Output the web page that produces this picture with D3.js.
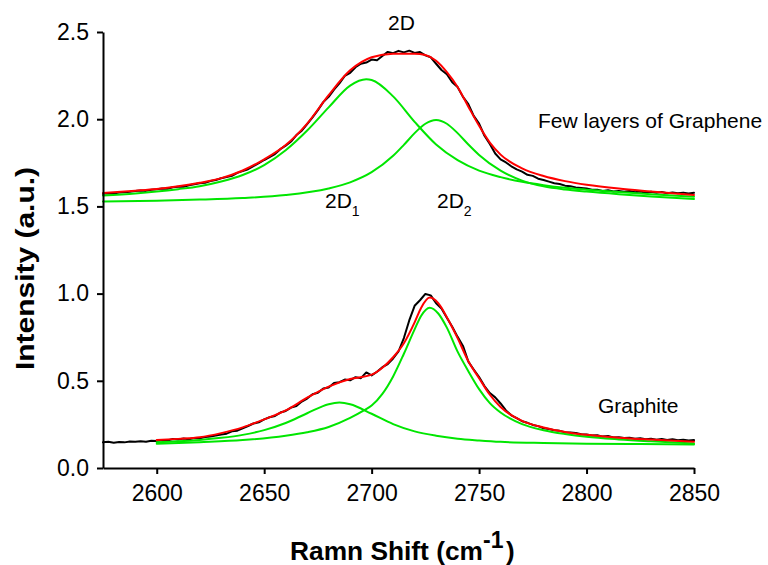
<!DOCTYPE html>
<html>
<head>
<meta charset="utf-8">
<script src="https://cdn.jsdelivr.net/npm/d3@7"></script>
<style>
  html, body { margin: 0; padding: 0; background: #ffffff; }
  svg { display: block; }
  text { font-family: "Liberation Sans", Arial, sans-serif; fill: #000; }
</style>
</head>
<body>
<svg id="chart" width="768" height="565"></svg>
<script>
// ---------------- DATA ----------------
const xTicksMajor = [2600, 2650, 2700, 2750, 2800, 2850];
const xTicksMinor = [2575, 2625, 2675, 2725, 2775, 2825];
const yTicksMajor = [0.0, 0.5, 1.0, 1.5, 2.0, 2.5];
const yTicksMinor = [0.25, 0.75, 1.25, 1.75, 2.25];

// measured spectra (step 2.5 cm-1 starting at 2575)
const measuredStart = 2575;
const measuredStep = 2.5;
const grapheneMeasured = [
  1.572,1.575,1.574,1.579,1.581,1.584,1.588,1.591,1.589,1.596,
  1.598,1.603,1.601,1.610,1.613,1.612,1.621,1.627,1.633,1.635,
  1.646,1.651,1.661,1.668,1.675,1.692,1.702,1.713,1.731,1.748,
  1.766,1.783,1.800,1.828,1.848,1.872,1.909,1.934,1.972,2.010,
  2.052,2.098,2.128,2.170,2.205,2.248,2.266,2.298,2.318,2.325,
  2.342,2.338,2.362,2.386,2.379,2.392,2.383,2.393,2.380,2.385,
  2.366,2.355,2.318,2.282,2.258,2.212,2.184,2.128,2.086,2.019,
  1.975,1.905,1.858,1.803,1.770,1.752,1.730,1.712,1.699,1.681,
  1.675,1.659,1.651,1.642,1.633,1.628,1.619,1.615,1.609,1.606,
  1.603,1.595,1.596,1.589,1.593,1.586,1.588,1.584,1.588,1.581,
  1.586,1.579,1.584,1.578,1.582,1.576,1.580,1.575,1.579,1.574,
  1.578
];
const graphiteMeasured = [
  0.147,0.150,0.145,0.149,0.147,0.152,0.150,0.154,0.151,0.156,
  0.155,0.160,0.158,0.166,0.163,0.169,0.165,0.172,0.170,0.177,
  0.181,0.186,0.192,0.197,0.210,0.214,0.228,0.241,0.255,0.262,
  0.279,0.291,0.298,0.318,0.327,0.346,0.355,0.381,0.398,0.423,
  0.431,0.456,0.462,0.487,0.492,0.507,0.503,0.521,0.515,0.548,
  0.531,0.552,0.578,0.596,0.628,0.668,0.745,0.846,0.930,0.962,
  0.998,0.990,0.945,0.915,0.862,0.810,0.752,0.700,0.610,0.565,
  0.522,0.470,0.430,0.405,0.370,0.330,0.302,0.286,0.268,0.259,
  0.247,0.240,0.228,0.224,0.216,0.213,0.205,0.204,0.201,0.193,
  0.192,0.186,0.188,0.180,0.183,0.175,0.177,0.172,0.174,0.168,
  0.171,0.165,0.168,0.162,0.166,0.160,0.165,0.159,0.162,0.158,
  0.160
];

// fitted curves (graphene)
const grapheneFitX = [2575,2590,2600,2610,2620,2630,2640,2650,2660,2670,2680,2690,2700,2710,2720,2725,2730,2735,2740,2745,2750,2755,2760,2770,2780,2790,2800,2815,2830,2850];
const grapheneFitY = [1.577,1.590,1.600,1.615,1.635,1.662,1.706,1.770,1.852,1.975,2.138,2.280,2.355,2.376,2.376,2.368,2.335,2.270,2.185,2.072,1.962,1.866,1.797,1.718,1.674,1.645,1.624,1.602,1.586,1.566];
const graphene2D1X = [2575,2590,2600,2610,2620,2630,2640,2650,2660,2670,2680,2690,2697.5,2700,2710,2720,2730,2740,2750,2760,2770,2780,2790,2800,2815,2830,2850];
const graphene2D1Y = [1.563,1.574,1.585,1.599,1.616,1.643,1.680,1.737,1.822,1.935,2.068,2.193,2.229,2.225,2.131,1.985,1.855,1.765,1.705,1.668,1.641,1.622,1.607,1.596,1.582,1.570,1.556];
const graphene2D2X = [2575,2600,2620,2640,2660,2680,2690,2700,2710,2715,2720,2725,2730,2735,2740,2745,2750,2760,2770,2780,2790,2800,2815,2830,2850];
const graphene2D2Y = [1.528,1.533,1.539,1.548,1.565,1.603,1.638,1.696,1.790,1.853,1.920,1.974,1.995,1.974,1.920,1.855,1.795,1.705,1.648,1.615,1.597,1.585,1.570,1.557,1.543];

// fitted curves (graphite)
const graphiteFitX = [2600,2610,2620,2630,2640,2650,2660,2670,2680,2690,2700,2705,2710,2715,2720,2723,2727,2731,2735,2740,2745,2750,2755,2760,2770,2780,2790,2800,2815,2830,2850];
const graphiteFitY = [0.160,0.167,0.176,0.200,0.233,0.279,0.330,0.403,0.467,0.510,0.535,0.575,0.635,0.715,0.835,0.918,0.977,0.945,0.865,0.745,0.612,0.515,0.420,0.350,0.270,0.232,0.207,0.190,0.174,0.163,0.151];
const graphiteSmallX = [2600,2610,2620,2630,2640,2650,2660,2670,2680,2685,2690,2700,2710,2720,2730,2740,2750,2760,2780,2800,2825,2850];
const graphiteSmallY = [0.148,0.153,0.161,0.173,0.190,0.217,0.258,0.314,0.366,0.375,0.366,0.311,0.252,0.210,0.185,0.168,0.158,0.150,0.143,0.139,0.137,0.135];
const graphiteBigX = [2600,2620,2640,2660,2670,2680,2690,2696,2700,2705,2710,2715,2720,2723,2727,2731,2735,2740,2745,2750,2755,2760,2770,2780,2790,2800,2815,2830,2850];
const graphiteBigY = [0.139,0.148,0.160,0.185,0.205,0.235,0.287,0.327,0.358,0.425,0.525,0.655,0.795,0.872,0.919,0.886,0.805,0.667,0.555,0.452,0.372,0.318,0.252,0.217,0.195,0.179,0.164,0.153,0.141];

// ---------------- CHART ----------------
const svg = d3.select("#chart");
svg.append("rect").attr("width", 768).attr("height", 565).attr("fill", "#fff");

const x = d3.scaleLinear().domain([2575, 2850]).range([103, 694]);
const y = d3.scaleLinear().domain([0, 2.5]).range([468, 32]);

const zip = (xs, ys) => xs.map((v, i) => [v, ys[i]]);
const measuredPts = arr => arr.map((v, i) => [measuredStart + i * measuredStep, v]);

const rough = d3.line().x(d => x(d[0])).y(d => y(d[1]));
const smooth = d3.line().x(d => x(d[0])).y(d => y(d[1])).curve(d3.curveMonotoneX);

const plot = svg.append("g");
const GREEN = "#00e600", RED = "#ff0000";

function path(data, gen, color, w) {
  plot.append("path").attr("d", gen(data)).attr("fill", "none")
    .attr("stroke", color).attr("stroke-width", w)
    .attr("stroke-linejoin", "round").attr("stroke-linecap", "round");
}

path(measuredPts(grapheneMeasured), rough, "#000", 2);
path(measuredPts(graphiteMeasured), rough, "#000", 2);
path(zip(graphene2D1X, graphene2D1Y), smooth, GREEN, 2);
path(zip(graphene2D2X, graphene2D2Y), smooth, GREEN, 2);
path(zip(graphiteSmallX, graphiteSmallY), smooth, GREEN, 2);
path(zip(graphiteBigX, graphiteBigY), smooth, GREEN, 2);
path(zip(grapheneFitX, grapheneFitY), smooth, RED, 2);
path(zip(graphiteFitX, graphiteFitY), smooth, RED, 2);

// axes
const fontTick = "23px";
const gx = svg.append("g").attr("transform", "translate(0,468)");
gx.call(d3.axisBottom(x).tickValues(xTicksMinor).tickSize(4).tickSizeOuter(0).tickFormat(""));
gx.call(d3.axisBottom(x).tickValues(xTicksMajor).tickSize(6).tickPadding(11).tickSizeOuter(0).tickFormat(d3.format("d")));
const gy = svg.append("g").attr("transform", "translate(103,0)");
gy.call(d3.axisLeft(y).tickValues(yTicksMinor).tickSize(4).tickSizeOuter(0).tickFormat(""));
gy.call(d3.axisLeft(y).tickValues(yTicksMajor).tickSize(6).tickPadding(8).tickSizeOuter(0).tickFormat(d3.format(".1f")));

svg.selectAll(".domain").attr("stroke", "#000").attr("stroke-width", 2);
svg.selectAll(".tick line").attr("stroke", "#000").attr("stroke-width", 2);
svg.selectAll(".tick text").attr("font-size", fontTick)
  .attr("font-family", '"Liberation Sans", Arial, sans-serif').attr("fill", "#000");

// axis titles
const titleStyle = t => t.attr("font-weight", "bold").attr("lengthAdjust", "spacingAndGlyphs");
titleStyle(svg.append("text").attr("x", 290).attr("y", 560).attr("font-size", "25px")
  .attr("textLength", 193)).text("Ramn Shift (cm");
svg.append("text").attr("x", 483).attr("y", 548).attr("font-size", "23px")
  .attr("font-weight", "bold").text("-1");
svg.append("text").attr("x", 506).attr("y", 560).attr("font-size", "26px")
  .attr("font-weight", "bold").text(")");

titleStyle(svg.append("text").attr("transform", "translate(34,268.5) rotate(-90)")
  .attr("text-anchor", "middle").attr("font-size", "25px").attr("textLength", 203))
  .text("Intensity (a.u.)");

// annotations
const ann = (tx, ty, s) => svg.append("text").attr("x", tx).attr("y", ty).attr("font-size", "21px").text(s);
ann(388, 30, "2D");
ann(538, 128, "Few layers of Graphene");
ann(598, 413, "Graphite");
function subLabel(tx, ty, main, sub) {
  const t = svg.append("text").attr("x", tx).attr("y", ty).attr("font-size", "21px");
  t.append("tspan").text(main);
  t.append("tspan").attr("dy", 8).attr("font-size", "14px").text(sub);
}
subLabel(325, 208, "2D", "1");
subLabel(437, 208, "2D", "2");
</script>
</body>
</html>
